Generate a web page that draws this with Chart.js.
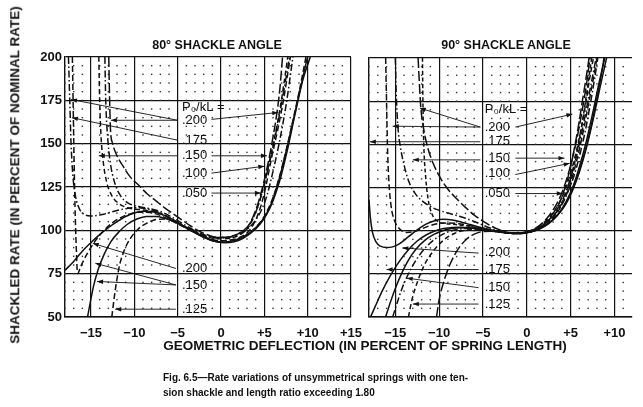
<!DOCTYPE html>
<html>
<head>
<meta charset="utf-8">
<script src="https://cdn.jsdelivr.net/npm/chart.js@4.4.1/dist/chart.umd.min.js"></script>
<style>
  body { margin:0; background:#fff; width:643px; height:407px; position:relative; overflow:hidden;
         font-family:"Liberation Sans", Arial, sans-serif; color:#111; }
  canvas { position:absolute; top:0; }
  #c80 { left:20px; }
  #c90 { left:362px; }
  .t { position:absolute; white-space:nowrap; line-height:1; font-weight:bold; }
  .ctr { transform:translateX(-50%); }
</style>
</head>
<body>
<canvas id="c80" width="370" height="340"></canvas>
<canvas id="c90" width="281" height="340"></canvas>

<div class="t ctr" style="left:217px; top:39px; font-size:12.5px;">80° SHACKLE ANGLE</div>
<div class="t ctr" style="left:506px; top:39px; font-size:12.5px;">90° SHACKLE ANGLE</div>
<div class="t" style="left:15px; top:175px; font-size:13.5px; transform:translate(-50%,-50%) rotate(-90deg);">SHACKLED RATE (IN PERCENT OF NOMINAL RATE)</div>
<div class="t ctr" style="left:365px; top:339px; font-size:13.5px;">GEOMETRIC DEFLECTION (IN PERCENT OF SPRING LENGTH)</div>
<div class="t" style="left:163px; top:373px; font-size:10px; font-family:'Liberation Sans Narrow','Liberation Sans',sans-serif;">Fig. 6.5—Rate variations of unsymmetrical springs with one ten-</div>
<div class="t" style="left:163px; top:388px; font-size:10px; font-family:'Liberation Sans Narrow','Liberation Sans',sans-serif;">sion shackle and length ratio exceeding 1.80</div>

<script>
// ---- 80 degree shackle angle: curves as [deflection %, rate %]
const a80 = [[-17.6,200],[-17.45,175],[-17.3,150],[-17.1,132],[-16.8,120],[-16.3,112],[-15.7,109],[-15,108.3],[-14,108.8],[-13,110],[-12,111.5],[-11,112.5],[-10,113],[-9,112.8],[-8,111.8],[-7,110],[-6,107.5],[-5,104.5],[-4,101.5],[-3,99],[-2,97],[-1,95.8],[0,95.5],[1,96],[2,97.5],[3,100.5],[4,106],[4.7,112],[5.3,120],[6,134],[6.7,150],[7.5,172],[8.3,200]];
const b80 = [[-17.15,200],[-17.05,170],[-16.95,140],[-16.85,115],[-16.7,90],[-16.55,75],[-16.2,79],[-15.5,86],[-14.5,94],[-13.5,100],[-12.5,104.5],[-11.5,107.5],[-10.5,109.5],[-9.5,110.5],[-8.5,110.5],[-7.5,109.5],[-6.5,107.5],[-5.5,105],[-4.5,102.5],[-3.5,100],[-2.5,97.5],[-1.5,95.5],[-0.5,94.2],[0.5,94],[1.5,94.8],[2.5,96.8],[3.3,100],[4,106],[4.6,114],[5.2,126],[5.8,141],[6.5,157],[7.2,175],[8,200]];
const c80 = [[-14.1,200],[-14,175],[-13.85,155],[-13.6,140],[-13.2,128],[-12.6,120],[-11.8,115.5],[-10.8,113],[-9.5,112],[-8.5,111.5],[-7.5,110.5],[-6.5,108.5],[-5.5,106],[-4.5,103],[-3.5,100.5],[-2.5,98],[-1.5,96.2],[-0.5,95.2],[0.5,95.2],[1.5,96],[2.5,98.5],[3.2,102],[3.8,108],[4.4,116],[5,127],[5.6,140],[6.2,154],[6.8,170],[7.3,186],[7.7,200]];
const d80 = [[-13.4,200],[-13.3,175],[-13.1,155],[-12.8,140],[-12.3,128],[-11.6,120],[-10.8,116],[-9.8,114],[-8.8,113],[-7.8,112],[-6.8,110.5],[-5.8,108],[-4.8,105],[-3.8,102],[-2.8,99.3],[-1.8,97.2],[-0.8,96],[0.2,95.8],[1.2,96.5],[2.2,98.5],[3,101.5],[3.6,106],[4.2,113],[4.8,123],[5.4,135],[6,148],[6.6,163],[7.3,182],[7.9,200]];
const e80 = [[-12.95,200],[-12.85,175],[-12.75,158],[-12.5,150],[-12,143],[-11.3,137],[-10.5,131],[-9.5,126],[-8.5,121],[-7.5,117],[-6.5,113],[-5.5,109.5],[-4.5,106],[-3.5,102.5],[-2.5,99.5],[-1.5,97.3],[-0.5,96],[0.5,96],[1.5,97],[2.5,99.5],[3.2,103],[3.8,109],[4.3,116],[4.9,127],[5.4,138],[5.9,151],[6.4,166],[6.8,182],[7.1,200]];
const f80 = [[-18,77],[-17,82],[-16,88],[-15,93],[-14,97.5],[-13,101.5],[-12,105],[-11,108],[-10,110],[-9,111],[-8,110.8],[-7,109.5],[-6,107.3],[-5,104.5],[-4,101.5],[-3,98.5],[-2,96],[-1,94],[0,93.2],[1,93.5],[2,95],[3,97.5],[4,101.5],[5,107.5],[5.6,113],[6.2,121],[7,135],[8,156],[9,178],[9.8,196],[10,200]];
const g80 = [[-15.4,50],[-15.1,58],[-14.7,68],[-14.2,77],[-13.5,86],[-12.7,93.5],[-11.8,99],[-10.8,103.5],[-9.7,106.5],[-8.6,108],[-7.5,108],[-6.5,107],[-5.5,105.2],[-4.5,102.8],[-3.5,100],[-2.5,97.3],[-1.5,95],[-0.5,93.4],[0.5,92.8],[1.5,93.4],[2.5,95.3],[3.5,98.6],[4.5,103.5],[5.3,109.5],[6,117],[6.8,129],[7.6,145],[8.5,166],[9.4,186],[10.3,200]];
const h80 = [[-12.6,50],[-12.3,62],[-12,72],[-11.7,80],[-11.2,88],[-10.5,95],[-9.6,100.5],[-8.5,104.3],[-7.4,106.3],[-6.4,106.5],[-5.4,105.2],[-4.4,102.8],[-3.4,100],[-2.4,97.3],[-1.4,95],[-0.4,93.6],[0.6,93.3],[1.6,94.2],[2.6,96.3],[3.6,99.8],[4.5,104.5],[5.2,110],[6,119],[6.8,132],[7.6,148],[8.5,168],[9.3,187],[9.8,200]];
const curves80 = [a80, b80, c80, d80, e80, f80, g80, h80];
const dash80 = [[7,2.5,1.5,2.5], [6,3], [5,3], [7,2.5,1.5,2.5], [10,3], [], [], [6,3]];

// ---- 90 degree shackle angle
const a90 = [[-18,118],[-17.85,108],[-17.6,99],[-17.2,93.5],[-16.7,91],[-16,90.2],[-15.3,90.6],[-14.5,92.5],[-13.5,96.5],[-12.5,100.5],[-11.5,103.8],[-10.5,105.8],[-9.5,106.6],[-8.5,106.2],[-7.5,105],[-6.5,103.6],[-5.5,102.2],[-4.5,101],[-3.5,99.8],[-2.5,98.9],[-1.5,98.4],[-0.5,98.5],[0.5,99.3],[1.5,101],[2.5,104],[3.5,109],[4.5,117],[5.3,126],[6,137],[6.8,152],[7.6,170],[8.3,187],[8.9,200]];
const b90 = [[-15,200],[-14.9,180],[-14.7,160],[-14.4,148],[-14,138],[-13.5,129],[-12.8,122],[-12,117.5],[-11,114],[-10,111.8],[-9,110.2],[-8,108.8],[-7,107.2],[-6,105.3],[-5,103.2],[-4,101.2],[-3,99.6],[-2,98.6],[-1,98.4],[0,99],[1,100.7],[2,103.8],[3,109],[3.8,115],[4.5,123],[5.2,134],[5.8,146],[6.4,160],[7,176],[7.6,192],[7.9,200]];
const c90 = [[-12.4,200],[-12.25,185],[-12.1,172],[-11.8,160],[-11.3,148],[-10.6,138],[-9.8,130],[-9,124],[-8,118.5],[-7,113.5],[-6,109],[-5,105.5],[-4,102.5],[-3,100.3],[-2,98.8],[-1,98.3],[0,98.8],[1,100.5],[2,104],[3,110],[3.7,116],[4.3,124],[4.9,135],[5.4,147],[5.9,161],[6.4,177],[6.9,193],[7.1,200]];
const d90 = [[-16.1,200],[-16,175],[-15.9,150],[-15.75,130],[-15.5,115],[-15.1,106],[-14.5,101],[-13.7,99],[-12.8,99.5],[-11.8,101.5],[-10.8,103.3],[-9.8,104.3],[-8.8,104.5],[-7.8,104],[-6.8,103.2],[-5.8,102.2],[-4.8,101.1],[-3.8,100],[-2.8,99.1],[-1.8,98.5],[-0.8,98.4],[0.2,99],[1.2,100.6],[2.2,103.5],[3.1,108],[3.9,114],[4.6,122],[5.3,133],[5.9,145],[6.5,159],[7.1,175],[7.7,191],[8,200]];
const e90 = [[-11.9,200],[-11.85,175],[-11.75,150],[-11.55,132],[-11.25,118],[-10.8,109.5],[-10.2,105.5],[-9.4,104.2],[-8.5,103.7],[-7.5,103.2],[-6.5,102.5],[-5.5,101.6],[-4.5,100.6],[-3.5,99.6],[-2.5,98.8],[-1.5,98.4],[-0.5,98.6],[0.5,99.6],[1.5,101.8],[2.5,105.5],[3.3,110],[4,116],[4.7,125],[5.3,136],[5.9,150],[6.4,165],[6.9,182],[7.4,200]];
const f90 = [[-18,48],[-17.3,56],[-16.5,65],[-15.5,74.5],[-14.5,82.5],[-13.5,89],[-12.5,94],[-11.5,97.5],[-10.5,99.8],[-9.5,101.2],[-8.5,101.9],[-7.5,102],[-6.5,101.7],[-5.5,101.1],[-4.5,100.4],[-3.5,99.6],[-2.5,98.9],[-1.5,98.5],[-0.5,98.6],[0.5,99.4],[1.5,101.2],[2.5,104.3],[3.5,109],[4.4,115],[5.2,123],[6,134],[6.8,148],[7.6,165],[8.4,184],[9.1,200]];
const g90 = [[-16.1,50],[-15.6,58],[-15,66.5],[-14.3,75],[-13.5,83],[-12.6,89.5],[-11.6,94.5],[-10.6,97.8],[-9.6,100],[-8.6,101.2],[-7.6,101.7],[-6.6,101.6],[-5.6,101.1],[-4.6,100.4],[-3.6,99.6],[-2.6,98.9],[-1.6,98.5],[-0.6,98.6],[0.4,99.3],[1.4,101],[2.4,104],[3.4,108.5],[4.3,114.5],[5.1,122.5],[5.9,133.5],[6.7,147],[7.4,162],[8,177],[8.6,193],[8.8,200]];
const h90 = [[-15.3,50],[-14.8,58],[-14.2,67],[-13.4,76],[-12.5,84],[-11.4,91],[-10.3,95.8],[-9.2,98.8],[-8.1,100.5],[-7,101.2],[-6,101.1],[-5,100.6],[-4,99.9],[-3,99.1],[-2,98.6],[-1,98.5],[0,99.1],[1,100.8],[2,103.8],[3,108.5],[3.9,114.5],[4.7,122.5],[5.4,132],[6,143],[6.6,156],[7.2,172],[7.8,190],[8.1,200]];
const i90 = [[-13.5,50],[-13.1,60],[-12.5,70],[-11.7,80],[-10.7,88],[-9.5,94.5],[-8.2,98.5],[-7,100.3],[-6,100.6],[-5,100.3],[-4,99.7],[-3,99.1],[-2,98.7],[-1,98.6],[0,99.3],[1,101.2],[2,104.8],[3,110.5],[3.8,117],[4.5,125.5],[5.1,135],[5.7,147],[6.2,159],[6.7,173],[7.2,189],[7.6,200]];
const j90 = [[-10.3,50],[-10,60],[-9.5,70],[-8.8,80],[-8,88],[-7,94.5],[-6,98],[-5,99.5],[-4,99.7],[-3,99.3],[-2,98.8],[-1,98.7],[0,99.4],[1,101.4],[2,105.5],[3,112],[3.7,118.5],[4.3,126],[4.9,136],[5.4,146],[5.9,158],[6.4,172],[6.9,188],[7.2,200]];
const curves90 = [a90, b90, c90, d90, e90, f90, g90, h90, i90, j90];
const dash90 = [[], [7,2.5,1.5,2.5], [10,3], [6,3], [4,2.5], [], [], [7,2.5,1.5,2.5], [5,3], [10,3]];

// P0/kL labels and their leader lines (label side -> curve side)
const labels80 = [['P\u2080/kL =', -4.5, 171], ['.200', -4.5, 163.5], ['.175', -4.5, 152], ['.150', -4.5, 143], ['.100', -4.5, 133], ['.050', -4.5, 121.5],
                  ['.200', -4.5, 78], ['.150', -4.5, 68.5], ['.125', -4.5, 54.5]];
const leaders80 = [[-5,163.5,-17.3,175.5], [-5,163.5,-12.7,163.5], [-5,152,-17.2,165], [-5,143,-14.1,143],
                   [-1.1,164,6.6,168], [-1.1,143,5.3,143], [-1.1,133,5,137], [-1.1,121.5,4.6,121.5],
                   [-5.2,78,-14.8,92.5], [-5.2,68.5,-14.5,81], [-5.2,68.5,-14.3,70.5], [-5.2,54.5,-12.2,54.5]];
const labels90 = [['P\u2080/kL =', -4.8, 170.5], ['.200', -4.8, 160], ['.175', -4.8, 151.5], ['.150', -4.8, 142], ['.100', -4.8, 133], ['.050', -4.8, 121.5],
                  ['.200', -4.8, 87.5], ['.175', -4.8, 77.5], ['.150', -4.8, 67], ['.125', -4.8, 57.5]];
const leaders90 = [[-5.3,160,-12.2,171], [-5.3,160,-15.3,160.5], [-5.3,151.5,-17.9,151.5], [-5.3,141,-13,141],
                   [-1.3,160,5.2,167.5], [-1.3,142,4.3,142], [-1.3,132.5,4.9,139], [-1.3,121.5,4.1,121.5],
                   [-5.5,87,-14.2,90], [-5.5,77.5,-16,77.5], [-5.5,67,-13.7,72.5], [-5.5,57.5,-13,57.5]];

const yTicks = [50, 75, 100, 125, 150, 175, 200];

function fmtX(v) {
  if (v % 5 !== 0) return '';
  if (v < 0) return '\u2212' + Math.abs(v);
  if (v > 0) return '+' + v;
  return '0';
}

function decor(labels, leaders) {
  return {
    id: 'decor',
    beforeDatasetsDraw(chart) {
      const { ctx, scales: { x, y } } = chart;
      ctx.save();
      ctx.fillStyle = '#333';
      for (let v = Math.ceil(x.min); v < x.max; v++) {
        if (v % 5 === 0) continue;
        for (let w = 55; w < 200; w += 5) {
          ctx.fillRect(x.getPixelForValue(v) - 0.7, y.getPixelForValue(w) - 0.7, 1.4, 1.4);
        }
      }
      ctx.restore();
    },
    afterDatasetsDraw(chart) {
      const { ctx, scales: { x, y } } = chart;
      ctx.save();
      ctx.strokeStyle = '#111';
      ctx.fillStyle = '#111';
      ctx.lineWidth = 0.9;
      leaders.forEach(l => {
        const x1 = x.getPixelForValue(l[0]), y1 = y.getPixelForValue(l[1]);
        const x2 = x.getPixelForValue(l[2]), y2 = y.getPixelForValue(l[3]);
        ctx.beginPath(); ctx.moveTo(x1, y1); ctx.lineTo(x2, y2); ctx.stroke();
        const ang = Math.atan2(y2 - y1, x2 - x1);
        ctx.beginPath();
        ctx.moveTo(x2, y2);
        ctx.lineTo(x2 - 6 * Math.cos(ang) + 2.2 * Math.sin(ang), y2 - 6 * Math.sin(ang) - 2.2 * Math.cos(ang));
        ctx.lineTo(x2 - 6 * Math.cos(ang) - 2.2 * Math.sin(ang), y2 - 6 * Math.sin(ang) + 2.2 * Math.cos(ang));
        ctx.closePath(); ctx.fill();
      });
      ctx.font = '13px "Liberation Sans", Arial, sans-serif';
      ctx.textAlign = 'left';
      ctx.textBaseline = 'middle';
      labels.forEach(t => {
        ctx.fillText(t[0], x.getPixelForValue(t[1]), y.getPixelForValue(t[2]));
      });
      ctx.restore();
    }
  };
}

function build(id, curves, dashes, xMax, showY, pad, labels, leaders) {
  return new Chart(document.getElementById(id), {
    type: 'line',
    data: {
      datasets: curves.map((c, i) => ({
        data: c.map(p => ({ x: p[0], y: p[1] })),
        borderColor: '#111',
        borderWidth: 1.5,
        borderDash: dashes[i],
        pointRadius: 0,
        fill: false,
        cubicInterpolationMode: 'monotone'
      }))
    },
    plugins: [decor(labels, leaders)],
    options: {
      animation: false,
      responsive: false,
      maintainAspectRatio: false,
      layout: { padding: pad },
      plugins: { legend: { display: false }, tooltip: { enabled: false } },
      scales: {
        x: {
          type: 'linear',
          min: -18,
          max: xMax,
          afterBuildTicks(scale) {
            const t = [];
            for (let v = -15; v <= xMax; v += 5) t.push({ value: v });
            scale.ticks = t;
          },
          afterFit(scale) { scale.height = 23; },
          grid: { color: '#111', lineWidth: 1.2, drawTicks: false },
          border: { color: '#111', width: 1.4 },
          ticks: {
            autoSkip: false, maxRotation: 0, minRotation: 0, padding: 9,
            color: '#111', font: { family: '"Liberation Sans", Arial, sans-serif', size: 13, weight: 'bold' },
            callback: v => fmtX(v)
          }
        },
        y: {
          type: 'linear',
          min: 50,
          max: 200,
          afterBuildTicks(scale) { scale.ticks = yTicks.map(v => ({ value: v })); },
          afterFit(scale) { scale.width = showY ? 45 : 0; },
          grid: { color: '#111', lineWidth: 1.2, drawTicks: false },
          border: { color: '#111', width: 1.4 },
          ticks: {
            display: showY, padding: 3, color: '#111',
            font: { family: '"Liberation Sans", Arial, sans-serif', size: 13, weight: 'bold' }
          }
        }
      }
    }
  });
}

build('c80', curves80, dash80, 15, true, { top: 57, right: 39, left: 0, bottom: 0 }, labels80, leaders80);
build('c90', curves90, dash90, 12, false, { top: 58, right: 11, left: 7, bottom: 0 }, labels90, leaders90);
</script>
</body>
</html>
